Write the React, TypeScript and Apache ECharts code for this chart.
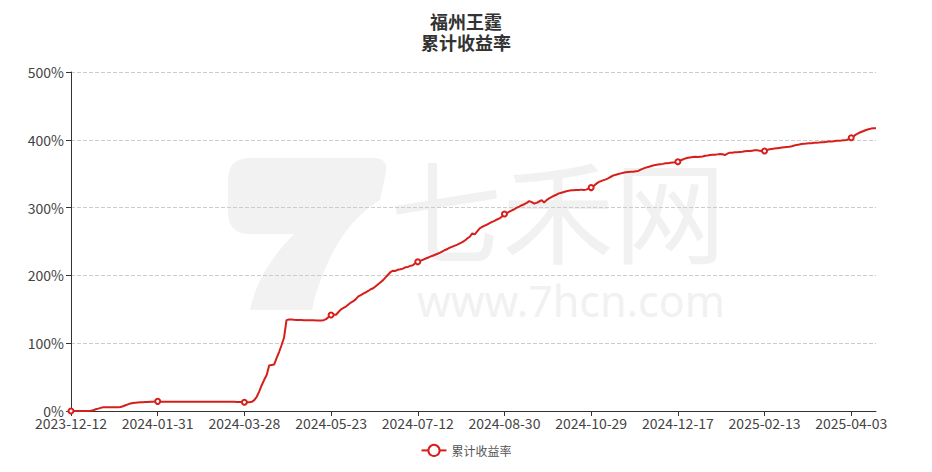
import React, { useEffect, useRef } from "react";
import * as echarts from "echarts";

const TITLE_MAIN = "福州王霆";
const TITLE_SUB = "累计收益率";
const SERIES_NAME = "累计收益率";
const START_DATE = "2023-12-12";
const DATA_COUNT = 326;
// Exchange holidays (weekdays) in the covered period
const HOLIDAYS = [
  "2024-01-01", "2024-02-09", "2024-02-12", "2024-02-13", "2024-02-14", "2024-02-15", "2024-02-16",
  "2024-04-04", "2024-04-05", "2024-05-01", "2024-05-02", "2024-05-03", "2024-06-10",
  "2024-09-16", "2024-09-17", "2024-10-01", "2024-10-02", "2024-10-03", "2024-10-04", "2024-10-07",
  "2025-01-01", "2025-01-28", "2025-01-29", "2025-01-30", "2025-01-31", "2025-02-03", "2025-02-04",
  "2025-04-04",
];

// cumulative return, %
const RETURNS = [
  0, 0, 0, 0, 0, 0, 0, 0, 0.3, 1.2,
  2.5, 3.5, 4.6, 5.4, 5.6, 5.5, 5.4, 5.6, 5.5, 5.6,
  5.8, 7.0, 8.4, 9.8, 11.0, 11.8, 12.3, 12.6, 12.8, 13.0,
  13.2, 13.4, 13.6, 13.8, 14.0, 14.2, 13.6, 13.5, 13.5, 13.5,
  13.5, 13.5, 13.5, 13.5, 13.5, 13.5, 13.5, 13.5, 13.5, 13.5,
  13.5, 13.5, 13.5, 13.5, 13.5, 13.5, 13.5, 13.5, 13.5, 13.5,
  13.5, 13.5, 13.5, 13.5, 13.5, 13.5, 13.5, 13.4, 13.3, 13.2,
  13.0, 12.9, 12.8, 13.5, 16, 21, 29, 38, 46, 53,
  67, 68, 68.5, 78, 87, 97, 108, 134, 135, 134.8,
  134.5, 134.3, 134.2, 134.1, 134, 134, 133.9, 133.8, 133.7, 133.6,
  133.5, 133.5, 134, 135.5, 138.5, 141.6, 141.8, 142, 146, 150,
  152, 154, 157, 160, 162, 165, 169, 171, 173, 175,
  177, 179.5, 181, 184, 187, 190, 193, 197, 201, 205,
  207, 206.5, 208.5, 209, 210, 212, 212.5, 214, 215, 218,
  220, 221.5, 223, 224.5, 226, 227.6, 229, 230.5, 232, 233.5,
  235.5, 237.5, 239, 241, 242.5, 244, 245.5, 247.3, 249, 251.5,
  254.5, 257, 262, 260.5, 265, 269.5, 271.5, 273.5, 275, 277,
  279, 280.5, 282.5, 284, 287, 290.5, 292, 294, 296, 297.5,
  300, 301.5, 303.5, 305, 307, 309.5, 308, 306, 307, 309,
  311, 307.5, 311, 313.5, 315.5, 317.5, 319, 321, 322, 323,
  324, 325, 325.5, 325.5, 326, 326, 326.5, 326, 326.5, 328,
  329.5, 332, 335, 337.5, 339, 340.5, 341.7, 343.5, 345.5, 347.5,
  348.5, 349.5, 350.5, 351.5, 352, 352.5, 353, 353, 353.5, 354,
  356, 357.5, 359, 360, 361, 362, 363, 363.5, 364, 364.5,
  365.3, 365.5, 366, 366.5, 367, 367.7, 369.5, 371, 372.5, 373.5,
  374, 374.5, 375, 374.5, 375, 375.5, 376.5, 377, 377.6, 378,
  378, 378.5, 379, 378.6, 377.5, 379.5, 381, 381, 381.5, 381.5,
  382, 382.4, 383, 383.5, 383.5, 384, 384.5, 384.5, 384, 383.5,
  383.5, 385, 386, 386.5, 387, 387.5, 388, 388.5, 389, 389.5,
  389.8, 390.5, 391.5, 392.5, 393, 393.8, 394, 394.5, 395, 395,
  395.5, 395.7, 396, 396.5, 396.5, 397, 397.5, 397.5, 398, 398.5,
  398.7, 399, 399.5, 399.7, 401, 403, 405.5, 408, 410, 411.5,
  413, 414.5, 415.5, 416.5, 417, 417,
];

const Y_MIN = 0;
const Y_MAX = 500;
const Y_INTERVAL = 100;

function pad(n: number) {
  return n < 10 ? "0" + n : "" + n;
}

function buildTradingDates(start: string, count: number): string[] {
  const out: string[] = [];
  const [y, m, d] = start.split("-").map(Number);
  const dt = new Date(Date.UTC(y, m - 1, d));
  const hol = new Set(HOLIDAYS);
  while (out.length < count) {
    const s = `${dt.getUTCFullYear()}-${pad(dt.getUTCMonth() + 1)}-${pad(dt.getUTCDate())}`;
    const wd = dt.getUTCDay();
    if (wd !== 0 && wd !== 6 && !hol.has(s)) out.push(s);
    dt.setUTCDate(dt.getUTCDate() + 1);
  }
  return out;
}

const DATES = buildTradingDates(START_DATE, DATA_COUNT);

const LOGO_D =
  "M22 0 L146 0 Q160 0 158 14 L152 42 Q120 62 102 100 Q88 130 84 152 L22 152 Q30 112 66 76 L22 76 Q0 76 0 54 L0 22 Q0 0 22 0 Z";

echarts.graphic.registerShape("logo", echarts.graphic.extendPath(LOGO_D, {}) as any);

const FONT = '"Microsoft YaHei", "Noto Sans CJK SC", "Noto Sans", sans-serif';
const RED = "#d61f1a";

export default function App() {
  const ref = useRef<HTMLDivElement>(null);
  useEffect(() => {
    if (!ref.current) return;
    const chart = echarts.init(ref.current, undefined, { renderer: "svg" });
    chart.setOption({
      animation: false,
      textStyle: { fontFamily: FONT },
      title: {
        text: TITLE_MAIN,
        subtext: TITLE_SUB,
        left: "center",
        top: 0,
        padding: [4, 5, 5, 5],
        itemGap: 4,
        textStyle: { fontSize: 18, fontWeight: "bold", color: "#333", lineHeight: 17, fontFamily: FONT },
        subtextStyle: { fontSize: 18, fontWeight: "bold", color: "#333", lineHeight: 17, fontFamily: FONT },
      },
      legend: {
        data: [SERIES_NAME],
        bottom: 2,
        left: "center",
        itemWidth: 25,
        itemHeight: 14,
        textStyle: { fontSize: 12, color: "#555", fontFamily: FONT },
      },
      graphic: [
        {
          type: "logo",
          x: 220,
          y: 150,
          silent: true,
          z: -10,
          style: { fill: "#f2f2f2" },
        },
        {
          type: "text",
          x: 382,
          y: 154,
          silent: true,
          z: -10,
          style: {
            text: "七禾网",
            fontSize: 112,
            lineHeight: 90,
            fontFamily: '"Noto Sans CJK SC", sans-serif',
            fill: "#f1f1f1",
          },
        },
        {
          type: "text",
          x: 409,
          y: 273,
          silent: true,
          z: -10,
          style: {
            text: "www.7hcn.com",
            fontSize: 43,
            lineHeight: 38,
            fontFamily: '"Noto Sans", sans-serif',
            fill: "#f1f1f1",
          },
        },
      ],
      grid: { left: 63, right: 48, top: 64, bottom: 53 },
      xAxis: {
        type: "category",
        data: DATES,
        boundaryGap: false,
        axisLine: { lineStyle: { color: "#333" } },
        axisTick: { show: true, lineStyle: { color: "#333" } },
        axisLabel: { interval: 34, color: "#444", fontSize: 14, fontFamily: FONT, margin: 5 },
        splitLine: { show: false },
      },
      yAxis: {
        type: "value",
        min: Y_MIN,
        max: Y_MAX,
        interval: Y_INTERVAL,
        axisLine: { show: true, lineStyle: { color: "#333" } },
        axisTick: { show: true, lineStyle: { color: "#333" } },
        axisLabel: { formatter: "{value}%", color: "#444", fontSize: 14, fontFamily: FONT, margin: 7 },
        splitLine: { show: true, lineStyle: { type: "dashed", color: "#ccc" } },
      },
      series: [
        {
          name: SERIES_NAME,
          type: "line",
          data: RETURNS,
          symbol: "emptyCircle",
          symbolSize: 5,
          showAllSymbol: "auto",
          lineStyle: { color: RED, width: 2 },
          itemStyle: { color: RED, borderWidth: 1 },
          z: 3,
        },
      ],
    });
    return () => chart.dispose();
  }, []);
  return <div ref={ref} style={{ width: 916, height: 456 }} />;
}
